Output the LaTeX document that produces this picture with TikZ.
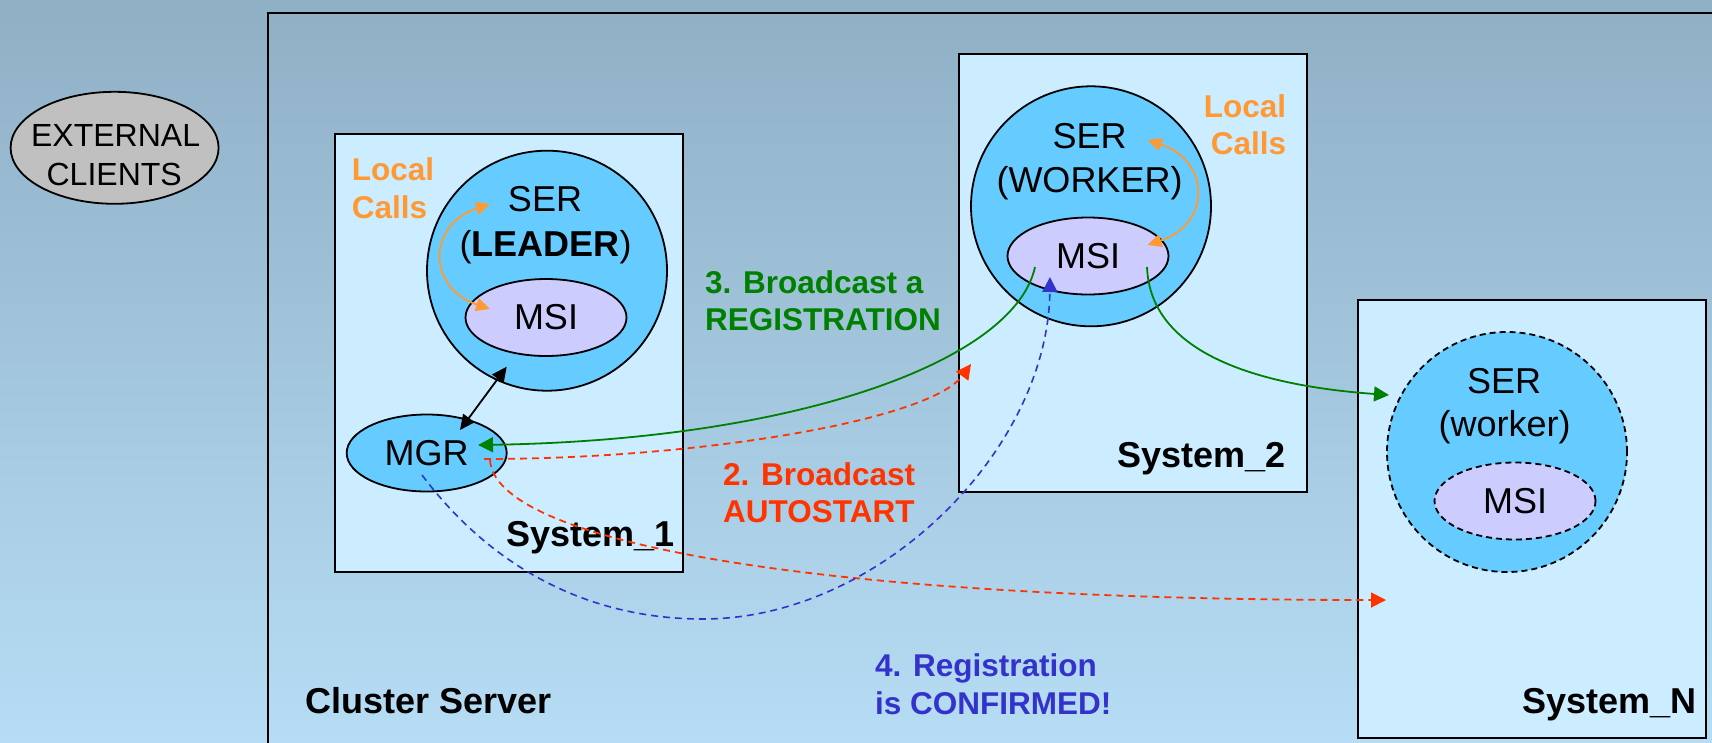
\documentclass[tikz,border=0pt]{standalone}
\usepackage{fontspec}
\setmainfont{Liberation Sans}
\usetikzlibrary{arrows.meta,shapes.geometric}
\definecolor{bgtop}{HTML}{8FAFC5}
\definecolor{bgbot}{HTML}{B6DDF5}
\definecolor{boxfill}{HTML}{CCECFF}
\definecolor{serfill}{HTML}{66CCFF}
\definecolor{msifill}{HTML}{CCCCFF}
\definecolor{extfill}{HTML}{C0C0C0}
\definecolor{lcorange}{HTML}{FF9933}
\definecolor{regreen}{HTML}{008000}
\definecolor{autored}{HTML}{FF3300}
\definecolor{confblue}{HTML}{3333CC}
\newcommand\bigfnt{\fontsize{36}{40}\selectfont}
\newcommand\extfnt{\fontsize{32}{36}\selectfont}
\newcommand\lblfnt{\fontsize{31.5}{36}\selectfont\bfseries}
\begin{document}
\begin{tikzpicture}[x=1pt,y=-1pt,
  sysbox/.style={draw=black, line width=2pt, fill=boxfill, rectangle, minimum width=348pt, minimum height=438pt, inner sep=0pt},
  sercircle/.style={draw=black, line width=1.8pt, fill=serfill, circle, minimum size=240pt, inner sep=0pt},
  msiell/.style={draw=black, line width=1.8pt, fill=msifill, ellipse, minimum width=161pt, minimum height=77pt, inner sep=0pt, font=\bigfnt},
  bigtxt/.style={font=\bigfnt, inner sep=0pt},
  systxt/.style={font=\bigfnt\bfseries, inner sep=0pt, anchor=base east},
  lbl/.style={font=\lblfnt, inner sep=0pt},
  tipA/.style={-{Triangle[length=15pt,width=15pt]}},
  tipB/.style={{Triangle[length=14pt,width=13pt]}-{Triangle[length=14pt,width=13pt]}},
  orangearrow/.style={tipB, draw=lcorange, line width=1.8pt},
  blackarrow/.style={{Triangle[length=15pt,width=14pt]}-{Triangle[length=15pt,width=14pt]}, draw=black, line width=1.8pt},
  greenarrow/.style={tipA, draw=regreen, line width=1.8pt},
  redarrow/.style={tipA, draw=autored, line width=1.8pt, dash pattern=on 7pt off 5pt},
  bluearrow/.style={tipA, draw=confblue, line width=1.6pt, dash pattern=on 7pt off 5pt}
]
\useasboundingbox (0,0) rectangle (1712,742);
\fill[top color=bgtop, bottom color=bgbot] (0,0) rectangle (1712,742);
\clip (0,0) rectangle (1712,742);

% cluster
\node[draw=black, line width=2pt, anchor=north west, minimum width=1600pt, minimum height=900pt, inner sep=0pt] (cluster) at (267,12) {};

% external clients
\node[draw=black, line width=1.8pt, fill=extfill, ellipse, minimum width=208pt, minimum height=112pt, inner sep=0pt] (ext) at (114.6,147.8) {};
\node[font=\extfnt, inner sep=0pt, anchor=base] (extA) at (115.6,146.7) {EXTERNAL};
\node[font=\extfnt, inner sep=0pt, anchor=base] (extB) at (114.2,185) {CLIENTS};

% systems
\node[sysbox] (sys1) at (508.5,353) {};
\node[sysbox] (sys2) at (1133,273) {};
\node[sysbox] (sysN) at (1532,518.5) {};

% system 1 contents
\node[sercircle] (ser1) at (547,270.7) {};
\node[bigtxt, anchor=base] (ser1a) at (545,211.7) {SER};
\node[bigtxt, anchor=base] (ser1b) at (545.5,256.7) {(\textbf{LEADER})};
\node[msiell] (msi1) at (546,317.5) {MSI};
\node[draw=black, line width=1.8pt, fill=serfill, ellipse, minimum width=160pt, minimum height=77pt, inner sep=0pt, font=\bigfnt] (mgr) at (426.7,453) {MGR};
\node[lbl, lcorange, anchor=base west] (lc1a) at (351.7,180) {Local};
\node[lbl, lcorange, anchor=base west] (lc1b) at (351.7,218.3) {Calls};
\node[systxt] (sys1t) at (675,546.7) {System\_1};

% system 2 contents
\node[sercircle] (ser2) at (1091,206.3) {};
\node[bigtxt, anchor=base] (ser2a) at (1089.5,148.3) {SER};
\node[bigtxt, anchor=base] (ser2b) at (1089.5,192.7) {(WORKER)};
\node[msiell] (msi2) at (1088,256) {MSI};
\node[lbl, lcorange, anchor=base east] (lc2a) at (1286.4,117.3) {Local};
\node[lbl, lcorange, anchor=base east] (lc2b) at (1286.4,154) {Calls};
\node[systxt] (sys2t) at (1285.6,467.3) {System\_2};

% system N contents
\node[sercircle, dash pattern=on 6pt off 4pt] (ser3) at (1507,452) {};
\node[bigtxt, anchor=base] (ser3a) at (1504,393.3) {SER};
\node[bigtxt, anchor=base] (ser3b) at (1504.5,436.7) {(worker)};
\node[msiell, dash pattern=on 6pt off 4pt] (msi3) at (1515,501) {MSI};
\node[systxt] (sysNt) at (1696.7,713.3) {System\_N};

% labels
\node[font=\bigfnt\bfseries, inner sep=0pt, anchor=base west] (clt) at (305.6,713.3) {Cluster Server};
\node[lbl, regreen, anchor=base west] (l3a) at (705,293.3) {3. Broadcast a};
\node[lbl, regreen, anchor=base west] (l3b) at (705,330.7) {REGISTRATION};
\node[lbl, autored, anchor=base west] (l2a) at (723,485) {2. Broadcast};
\node[lbl, autored, anchor=base west] (l2b) at (723,522.7) {AUTOSTART};
\node[lbl, confblue, anchor=base west] (l4a) at (875,676) {4. Registration};
\node[lbl, confblue, anchor=base west] (l4b) at (875,714.3) {is CONFIRMED!};

% connector end points
\coordinate (lcA) at (490,204);
\coordinate (lcB) at (490,309);
\coordinate (lcC) at (1147.5,140);
\coordinate (lcD) at (1147.5,245);
\coordinate (bkA) at (460,430);
\coordinate (bkB) at (506.7,366.7);
\coordinate (g1s) at (1035,267);
\coordinate (g1e) at (478,445);
\coordinate (g2s) at (1147,267);
\coordinate (g2e) at (1389,395);
\coordinate (r1s) at (484,459);
\coordinate (r1e) at (971,364);
\coordinate (r2s) at (490,460);
\coordinate (r2e) at (1386,600);
\coordinate (b1s) at (422,475);
\coordinate (b1m) at (703,619);
\coordinate (b1e) at (1050,277);

% connectors
\draw[orangearrow] (lcA) .. controls (427,225) and (427,288) .. (lcB);
\draw[orangearrow] (lcC) .. controls (1211,161) and (1211,224) .. (lcD);
\draw[blackarrow] (bkA) -- (bkB);
\draw[greenarrow] (g1s) .. controls (1015,360) and (800,440) .. (g1e);
\draw[greenarrow] (g2s) .. controls (1150,350) and (1250,385) .. (g2e);
\draw[redarrow] (r1s) .. controls (700,459) and (930,420) .. (r1e);
\draw[redarrow] (r2s) .. controls (495,540) and (800,600) .. (r2e);
\draw[bluearrow] (b1s) .. controls (488,563) and (583,619) .. (b1m) .. controls (880,619) and (1048,450) .. (b1e);
\end{tikzpicture}
\end{document}
